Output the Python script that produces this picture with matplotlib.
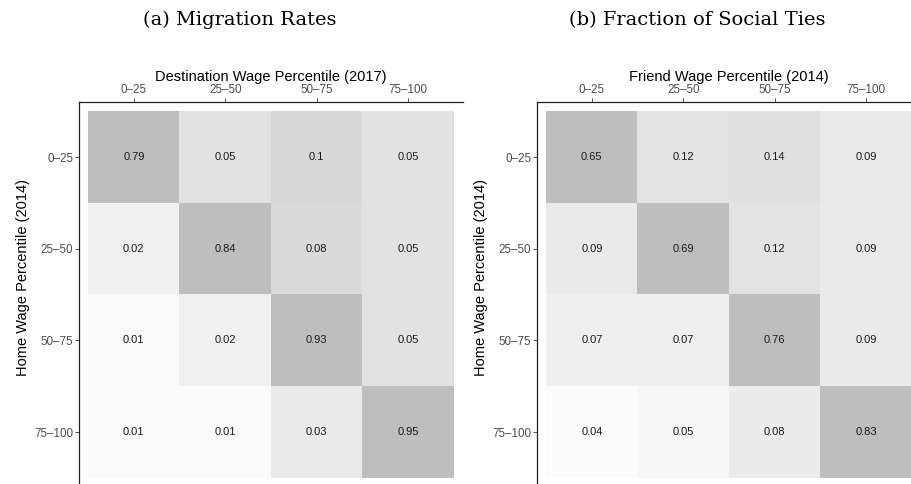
import numpy as np
import matplotlib
matplotlib.use('Agg')
import matplotlib.pyplot as plt
from matplotlib.colors import LinearSegmentedColormap, LogNorm

plt.rcParams['font.family'] = ['Liberation Sans', 'DejaVu Sans']

# wage percentile groups
groups = ['0–25', '25–50', '50–75', '75–100']

# (a) migration rates: rows = home group (2014), cols = destination group (2017)
migration = np.array([
    [0.79, 0.05, 0.10, 0.05],
    [0.02, 0.84, 0.08, 0.05],
    [0.01, 0.02, 0.93, 0.05],
    [0.01, 0.01, 0.03, 0.95],
])

# (b) fraction of social ties: rows = home group (2014), cols = friend group (2014)
ties = np.array([
    [0.65, 0.12, 0.14, 0.09],
    [0.09, 0.69, 0.12, 0.09],
    [0.07, 0.07, 0.76, 0.09],
    [0.04, 0.05, 0.08, 0.83],
])

titles = ['(a) Migration Rates', '(b) Fraction of Social Ties']
xlabels = ['Destination Wage Percentile (2017)', 'Friend Wage Percentile (2014)']
ylabel = 'Home Wage Percentile (2014)'

cmap = LinearSegmentedColormap.from_list('greys', ['#ffffff', '#bebebe'])
norms = [LogNorm(vmin=0.008, vmax=0.5, clip=True),
         LogNorm(vmin=0.035, vmax=0.67, clip=True)]

W, H = 911, 484
fig = plt.figure(figsize=(W / 100, H / 100), dpi=100)

lefts = [79, 537]
title_x = [240, 697]
for k, data in enumerate([migration, ties]):
    ax = fig.add_axes([lefts[k] / W, -3 / H, 384 / W, 385 / H])
    ax.imshow(data, cmap=cmap, norm=norms[k], extent=(0.5, 4.5, 4.5, 0.5),
              aspect='auto', interpolation='nearest')
    for i in range(4):
        for j in range(4):
            ax.text(j + 1, i + 1, f'{data[i, j]:g}', ha='center', va='center',
                    fontsize=8, color='#1a1a1a')
    ax.set_xlim(0.4, 4.6)
    ax.set_ylim(4.6, 0.4)

    ax.xaxis.set_ticks_position('top')
    ax.xaxis.set_label_position('top')
    ax.set_xticks(range(1, 5), groups)
    ax.set_yticks(range(1, 5), groups)
    ax.tick_params(colors='#333333', labelcolor='#4d4d4d', labelsize=8.4,
                   length=3, width=0.6, pad=1.2)
    ax.set_xlabel(xlabels[k], fontsize=10.5, labelpad=2.2)
    ax.set_ylabel(ylabel, fontsize=10.5)
    ax.yaxis.set_label_coords(-0.128, 0.545)

    for s in ['right', 'bottom']:
        ax.spines[s].set_visible(False)
    for s in ['left', 'top']:
        ax.spines[s].set_linewidth(0.9)
        ax.spines[s].set_color('#222222')

    fig.text(title_x[k] / W, 1 - 20 / H, titles[k], ha='center', va='center',
             fontsize=14, family='DejaVu Serif')

fig.savefig('out.png', dpi=100)
